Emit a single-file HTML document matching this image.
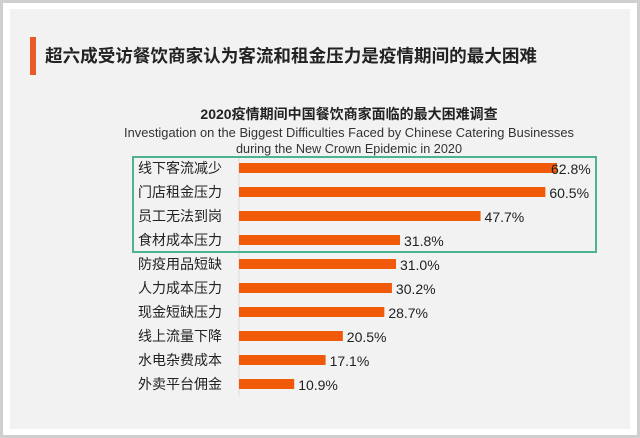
<!DOCTYPE html>
<html><head><meta charset="utf-8"><style>
html,body{margin:0;padding:0;}
body{width:640px;height:438px;background:#cfcfcf;position:relative;overflow:hidden;font-family:"Liberation Sans","Noto Sans CJK SC",sans-serif;}
#frame{position:absolute;left:3px;top:3px;width:634px;height:432px;background:#fff;}
#panel{position:absolute;left:10px;top:9px;width:620px;height:420px;background:#f2f2f2;}
svg{position:absolute;left:0;top:0;}
</style></head><body>
<div id="frame"></div>
<div id="panel"></div>
<svg id="chart" width="640" height="438">
<rect x="30" y="37" width="6" height="38" fill="#e85a2a"/>
<text x="45" y="62" font-size="17.5" font-weight="bold" fill="#222" textLength="492" lengthAdjust="spacingAndGlyphs">超六成受访餐饮商家认为客流和租金压力是疫情期间的最大困难</text>
<text x="349" y="119" font-size="14" font-weight="bold" text-anchor="middle" fill="#222">2020疫情期间中国餐饮商家面临的最大困难调查</text>
<text x="349" y="137" font-size="12.5" text-anchor="middle" fill="#333" textLength="450" lengthAdjust="spacingAndGlyphs">Investigation on the Biggest Difficulties Faced by Chinese Catering Businesses</text>
<text x="349" y="153" font-size="12.5" text-anchor="middle" fill="#333" textLength="226" lengthAdjust="spacingAndGlyphs">during the New Crown Epidemic in 2020</text>
<line x1="239" y1="158" x2="239" y2="396" stroke="#dcdcdc" stroke-width="1"/>
<g id="bars"></g>
<rect x="133" y="157" width="463" height="95" fill="none" stroke="#4db38c" stroke-width="2"/>
</svg>
<script>
const categories=["线下客流减少","门店租金压力","员工无法到岗","食材成本压力","防疫用品短缺","人力成本压力","现金短缺压力","线上流量下降","水电杂费成本","外卖平台佣金"];
const values=[62.8,60.5,47.7,31.8,31.0,30.2,28.7,20.5,17.1,10.9];
const valueLabels=["62.8%","60.5%","47.7%","31.8%","31.0%","30.2%","28.7%","20.5%","17.1%","10.9%"];
const x0=239,scale=318/62.8,y0=168,step=24,bh=10;
function xs(v){return x0+v*scale;}
function ys(i){return y0+i*step;}
const g=document.getElementById('bars');
const NS="http://www.w3.org/2000/svg";
categories.forEach((c,i)=>{
  const t=document.createElementNS(NS,'text');
  
  
  t.setAttribute('x',138);t.setAttribute('y',ys(i)+5);
  t.setAttribute('font-size','14');t.setAttribute('fill','#222');
  t.textContent=c;g.appendChild(t);
  const r=document.createElementNS(NS,'rect');
  
  
  r.setAttribute('x',x0);r.setAttribute('y',ys(i)-bh/2);
  r.setAttribute('width',xs(values[i])-x0);r.setAttribute('height',bh);
  r.setAttribute('fill','#f05a0a');g.appendChild(r);
  const v=document.createElementNS(NS,'text');
  
  
  v.setAttribute('x',xs(values[i])+(i==0?-6:4));v.setAttribute('y',ys(i)+6);
  v.setAttribute('font-size','14');v.setAttribute('fill','#222');
  v.textContent=valueLabels[i];g.appendChild(v);
});
</script>
</body></html>
